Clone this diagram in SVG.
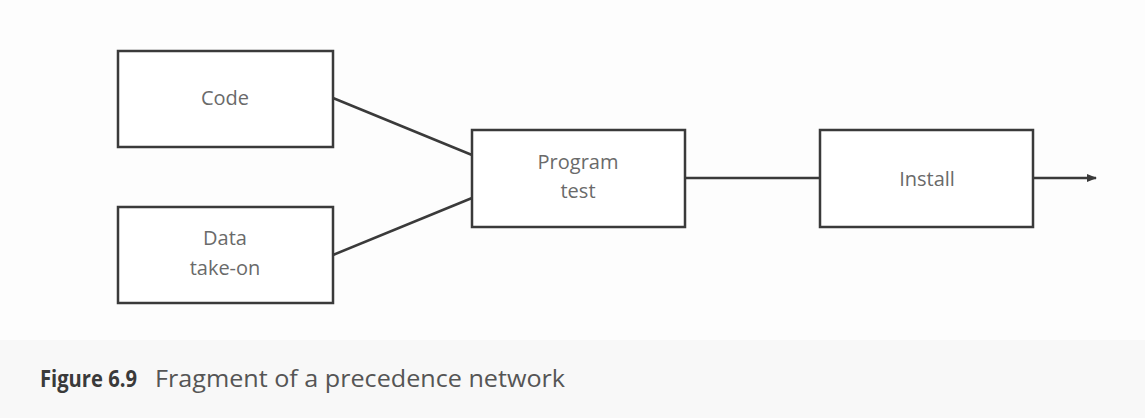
<svg xmlns="http://www.w3.org/2000/svg" width="1145" height="418" viewBox="0 0 1145 418">
<defs>
<style>
.box{fill:#ffffff;stroke:#3a3a3a;stroke-width:2.5}
.lbl{font-family:"Open Sans","Liberation Sans",sans-serif;font-size:20px;fill:#6a6a6a;text-anchor:middle}
.con{stroke:#3a3a3a;stroke-width:2.5;fill:none}
.cap{font-family:"Open Sans","Liberation Sans",sans-serif;font-size:23px}
</style>
<marker id="arr" viewBox="0 0 10 10" refX="9" refY="5" markerWidth="4" markerHeight="4" orient="auto">
<path d="M0,1 L10,5 L0,9 z" fill="#3a3a3a"/>
</marker>
</defs>
<rect x="0" y="0" width="1145" height="418" fill="#fdfdfd"/>
<rect x="0" y="340" width="1145" height="78" fill="#f8f8f8"/>
<g id="code"><rect class="box" x="118" y="51" width="215" height="96"/><text class="lbl" x="225" y="105">Code</text></g>
<g id="data"><rect class="box" x="118" y="207" width="215" height="96"/><text class="lbl" x="225" y="245">Data</text><text class="lbl" x="225" y="275">take-on</text></g>
<g id="program-test"><rect class="box" x="472" y="130" width="213" height="97"/><text class="lbl" x="578" y="169">Program</text><text class="lbl" x="578" y="198">test</text></g>
<g id="install"><rect class="box" x="820" y="130" width="213" height="97"/><text class="lbl" x="927" y="186">Install</text></g>
<g id="connectors">
<line class="con" x1="333" y1="98" x2="472" y2="155"/>
<line class="con" x1="333" y1="255" x2="472" y2="198"/>
<line class="con" x1="685" y1="178" x2="820" y2="178"/>
<line class="con" x1="1033" y1="178" x2="1096" y2="178" marker-end="url(#arr)"/>
</g>
<text class="cap" y="387"><tspan x="40" font-weight="bold" fill="#3a3a3a" textLength="97" lengthAdjust="spacingAndGlyphs">Figure 6.9</tspan><tspan x="155" fill="#555555" textLength="410" lengthAdjust="spacingAndGlyphs">Fragment of a precedence network</tspan></text>
</svg>
